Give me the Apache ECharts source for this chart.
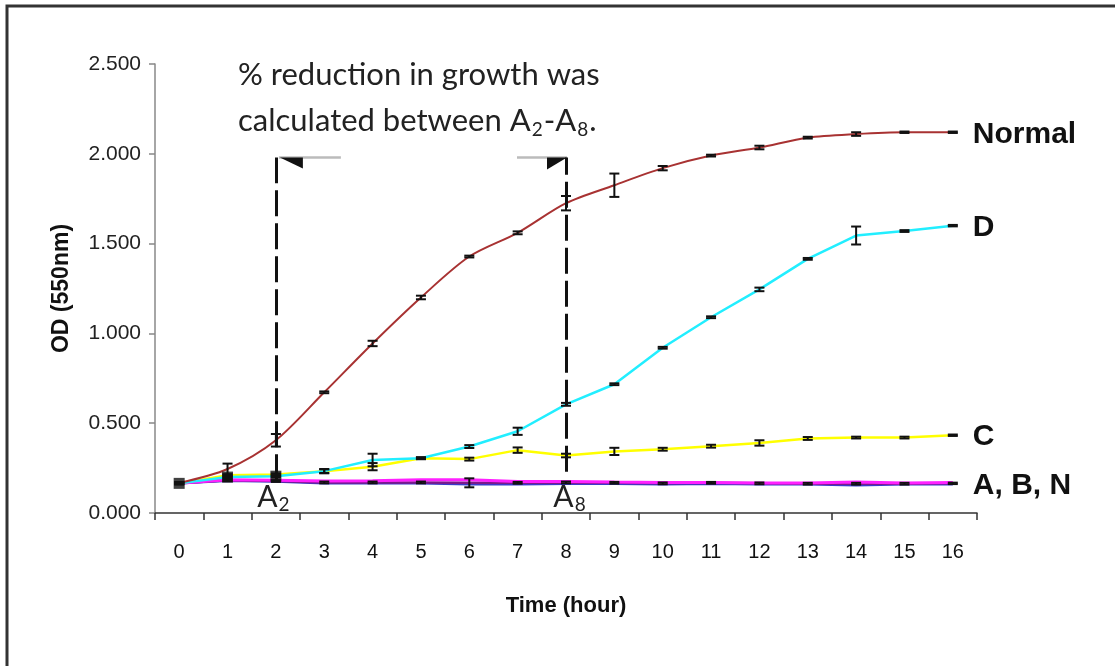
<!DOCTYPE html>
<html>
<head>
<meta charset="utf-8">
<script src="https://cdn.jsdelivr.net/npm/echarts@6/dist/echarts.min.js"></script>
<style>
  html, body { margin: 0; padding: 0; background: #fff; }
  #chart { width: 1115px; height: 666px; }
</style>
</head>
<body>
<div id="chart"></div>
<script>
// time points (hour)
const hours = ['0', '1', '2', '3', '4', '5', '6', '7', '8', '9', '10', '11', '12', '13', '14', '15', '16'];
const yTicks = [0, 0.5, 1, 1.5, 2, 2.5];

// OD (550nm)
const normal = [0.167, 0.245, 0.405, 0.672, 0.944, 1.20, 1.428, 1.56, 1.725, 1.825, 1.92, 1.99, 2.035, 2.09, 2.11, 2.12, 2.12];
const seriesD = [0.165, 0.20, 0.205, 0.233, 0.295, 0.305, 0.37, 0.455, 0.605, 0.717, 0.92, 1.09, 1.245, 1.415, 1.545, 1.57, 1.60];
const seriesC = [0.165, 0.21, 0.215, 0.233, 0.258, 0.305, 0.30, 0.35, 0.32, 0.343, 0.355, 0.372, 0.39, 0.415, 0.42, 0.42, 0.433];
const seriesA = [0.165, 0.18, 0.175, 0.165, 0.165, 0.165, 0.16, 0.16, 0.163, 0.163, 0.16, 0.163, 0.16, 0.16, 0.155, 0.16, 0.16];
const seriesB = [0.165, 0.185, 0.182, 0.178, 0.18, 0.185, 0.185, 0.175, 0.175, 0.172, 0.17, 0.17, 0.167, 0.167, 0.172, 0.167, 0.17];
const seriesN = [0.165, 0.182, 0.178, 0.17, 0.17, 0.17, 0.168, 0.168, 0.17, 0.168, 0.165, 0.168, 0.165, 0.163, 0.163, 0.163, 0.165];

// error bars (+/-)
const errNormal = [0.005, 0.03, 0.035, 0.005, 0.015, 0.01, 0.005, 0.008, 0.04, 0.065, 0.012, 0.005, 0.01, 0.005, 0.01, 0.004, 0.004];
const errD = [0.005, 0.005, 0.005, 0.01, 0.035, 0.005, 0.008, 0.02, 0.008, 0.005, 0.005, 0.005, 0.01, 0.005, 0.05, 0.005, 0.004];
const errC = [0.005, 0.005, 0.005, 0.012, 0.02, 0.005, 0.008, 0.015, 0.01, 0.02, 0.008, 0.008, 0.015, 0.008, 0.005, 0.005, 0.004];
const errN = [0.005, 0.005, 0.005, 0.005, 0.005, 0.005, 0.025, 0.005, 0.005, 0.005, 0.005, 0.005, 0.005, 0.005, 0.005, 0.005, 0.004];

const arial = "'Liberation Sans', Arial, sans-serif";
const calibri = "Lato, 'Noto Sans', sans-serif";

function errorSeries(values, errs) {
    return {
        type: 'custom',
        z: 5,
        silent: true,
        data: values.map((v, i) => [i, v, errs[i]]),
        renderItem: function (params, api) {
            const x = api.value(0);
            const y = api.value(1);
            const e = api.value(2);
            const hi = api.coord([x, y + e]);
            const lo = api.coord([x, y - e]);
            const hw = 5;
            const st = {stroke: '#111', lineWidth: 2};
            return {
                type: 'group',
                children: [
                    {type: 'line', shape: {x1: hi[0], y1: hi[1], x2: lo[0], y2: lo[1]}, style: st},
                    {type: 'line', shape: {x1: hi[0] - hw, y1: hi[1], x2: hi[0] + hw, y2: hi[1]}, style: st},
                    {type: 'line', shape: {x1: lo[0] - hw, y1: lo[1], x2: lo[0] + hw, y2: lo[1]}, style: st}
                ]
            };
        }
    };
}

function endLabel(text) {
    return {
        show: true,
        formatter: text,
        distance: 20,
        offset: [0, 2],
        fontFamily: arial,
        fontWeight: 'bold',
        fontSize: 30,
        color: '#111'
    };
}

// text with subscripts, e.g. 'A{s|2}'
function subText(text, size) {
    return {
        text: text,
        fontFamily: calibri,
        fontSize: size,
        lineHeight: Math.round(size * 1.2),
        fill: '#222',
        rich: {
            s: {
                fontFamily: calibri, fontSize: Math.round(size * 0.62), fill: '#222',
                verticalAlign: 'bottom', lineHeight: 8, padding: [0, 1, 0, 1]
            }
        }
    };
}

const chart = echarts.init(document.getElementById('chart'));

const option = {
    backgroundColor: '#fff',
    animation: false,
    grid: {left: 155, right: 138, top: 64, bottom: 153},
    xAxis: {
        type: 'category',
        data: hours,
        boundaryGap: true,
        name: 'Time (hour)',
        nameLocation: 'middle',
        nameGap: 82,
        nameTextStyle: {fontFamily: arial, fontWeight: 'bold', fontSize: 22, color: '#111'},
        axisLine: {lineStyle: {color: '#333', width: 1.5}},
        axisTick: {show: true, interval: 0, length: 7, lineStyle: {color: '#333', width: 1.5}},
        axisLabel: {margin: 29, fontFamily: arial, fontSize: 20, color: '#111'},
        splitLine: {show: false}
    },
    yAxis: {
        type: 'value',
        min: yTicks[0],
        max: yTicks[yTicks.length - 1],
        interval: 0.5,
        name: 'OD (550nm)',
        nameLocation: 'middle',
        nameGap: 82,
        nameTextStyle: {fontFamily: arial, fontWeight: 'bold', fontSize: 23, color: '#111'},
        axisLine: {show: true, lineStyle: {color: '#888', width: 1.5}},
        axisTick: {show: true, length: 6, lineStyle: {color: '#888', width: 1.5}},
        axisLabel: {
            margin: 14,
            fontFamily: arial,
            fontSize: 21,
            color: '#222',
            formatter: v => v.toFixed(3)
        },
        splitLine: {show: false}
    },
    series: [
        {
            name: 'A', type: 'line', data: seriesA, symbol: 'none',
            lineStyle: {color: '#3a3acc', width: 2.5}, z: 2
        },
        {
            name: 'N', type: 'line', data: seriesN, symbol: 'none',
            lineStyle: {color: '#7a1a8a', width: 2.5}, z: 2,
            endLabel: endLabel('A, B, N')
        },
        {
            name: 'B', type: 'line', data: seriesB, symbol: 'none',
            lineStyle: {color: '#ff20ff', width: 3}, z: 2
        },
        {
            name: 'C', type: 'line', data: seriesC, symbol: 'none',
            lineStyle: {color: '#ffff00', width: 2.5}, z: 2,
            endLabel: endLabel('C')
        },
        {
            name: 'D', type: 'line', data: seriesD, symbol: 'none',
            lineStyle: {color: '#22eeff', width: 2.5}, z: 2,
            endLabel: endLabel('D')
        },
        {
            name: 'Normal', type: 'line', data: normal, symbol: 'none', smooth: 0.3,
            lineStyle: {color: '#a83232', width: 2}, z: 3,
            endLabel: endLabel('Normal'),
            markLine: {
                silent: true,
                symbol: ['none', 'none'],
                label: {show: false},
                lineStyle: {color: '#111', width: 3, type: [26, 7]},
                data: [
                    [{coord: ['2', 0.183]}, {coord: ['2', 1.98]}],
                    [{coord: ['8', 0.23]}, {coord: ['8', 1.98]}]
                ]
            }
        },
        {
            name: 'start', type: 'scatter', data: seriesD.slice(0, 3),
            symbol: 'rect', symbolSize: 11, itemStyle: {color: '#111'}, z: 6, silent: true
        },
        errorSeries(normal, errNormal),
        errorSeries(seriesD, errD),
        errorSeries(seriesC, errC),
        errorSeries(seriesN, errN)
    ]
};

chart.setOption(option);

// annotation decorations placed from the axis positions
const p2 = chart.convertToPixel({xAxisIndex: 0, yAxisIndex: 0}, ['2', 1.98]);
const p8 = chart.convertToPixel({xAxisIndex: 0, yAxisIndex: 0}, ['8', 1.98]);
const pb2 = chart.convertToPixel({xAxisIndex: 0, yAxisIndex: 0}, ['2', 0.09]);
const pb8 = chart.convertToPixel({xAxisIndex: 0, yAxisIndex: 0}, ['8', 0.09]);

chart.setOption({
    graphic: [
        {
            type: 'polyline', silent: true,
            shape: {points: [[7, 666], [7, 6], [1115, 6]]},
            style: {stroke: '#333', lineWidth: 3, fill: null}
        },
        {
            type: 'text', left: 238, top: 56, silent: true,
            style: subText('% reduction in growth was', 31)
        },
        {
            type: 'text', left: 238, top: 102, silent: true,
            style: subText('calculated between A{s|2}-A{s|8}.', 31)
        },
        {
            type: 'line', silent: true,
            shape: {x1: p2[0] + 3, y1: p2[1], x2: p2[0] + 65, y2: p2[1]},
            style: {stroke: '#bbb', lineWidth: 2.5}
        },
        {
            type: 'polygon', silent: true,
            shape: {points: [[p2[0] + 4, p2[1]], [p2[0] + 27, p2[1]], [p2[0] + 27, p2[1] + 11]]},
            style: {fill: '#111'}
        },
        {
            type: 'line', silent: true,
            shape: {x1: p8[0] - 49, y1: p8[1], x2: p8[0] + 1, y2: p8[1]},
            style: {stroke: '#bbb', lineWidth: 2.5}
        },
        {
            type: 'polygon', silent: true,
            shape: {points: [[p8[0] - 19, p8[1]], [p8[0] + 1, p8[1]], [p8[0] - 19, p8[1] + 12]]},
            style: {fill: '#111'}
        },
        {
            type: 'text', x: pb2[0] - 2, y: pb2[1], silent: true,
            style: Object.assign(subText('A{s|2}', 30), {align: 'center', verticalAlign: 'middle'})
        },
        {
            type: 'text', x: pb8[0] + 4, y: pb8[1], silent: true,
            style: Object.assign(subText('A{s|8}', 30), {align: 'center', verticalAlign: 'middle'})
        }
    ]
});

window.addEventListener('resize', function () {
    chart.resize();
});
</script>
</body>
</html>
